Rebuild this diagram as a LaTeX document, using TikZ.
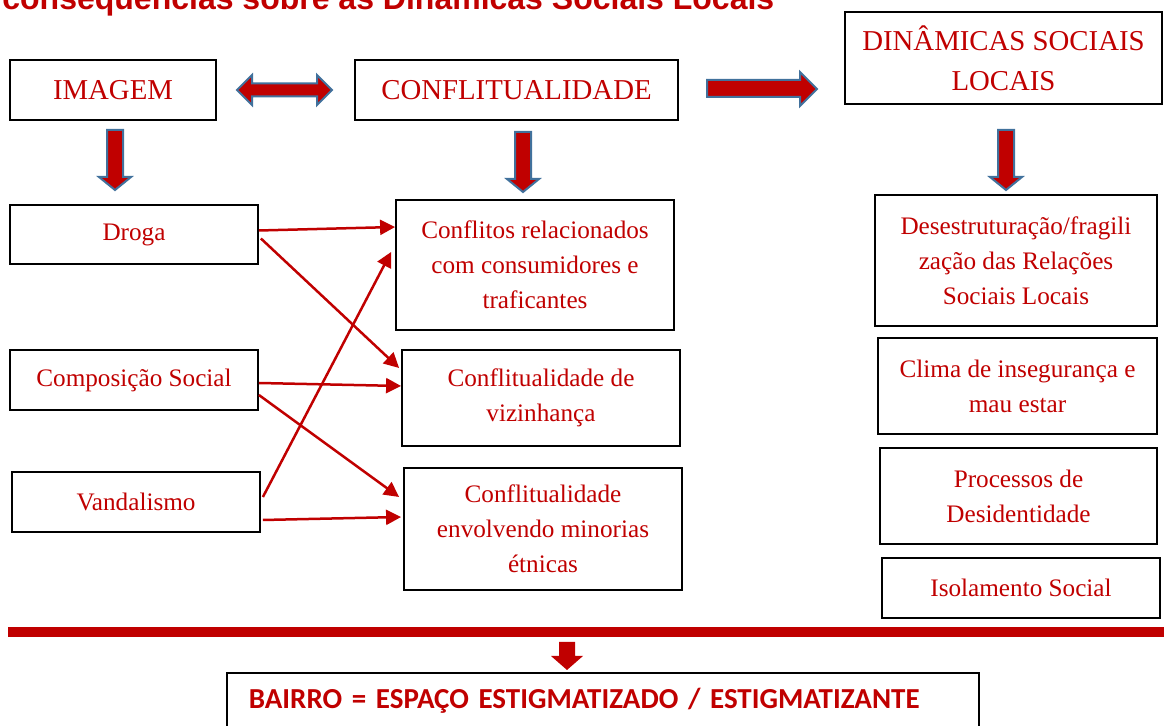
\documentclass[tikz,border=0pt]{standalone}
\usepackage{fontspec}
\setmainfont{Liberation Serif}
\newfontfamily\titlefont{Liberation Sans}
\newfontfamily\calfont{Carlito}
\usetikzlibrary{arrows.meta}
\usetikzlibrary{calc}
\usepackage{xcolor}
\definecolor{darkred}{HTML}{C00000}
\definecolor{steel}{HTML}{41719C}

\begin{document}
\begin{tikzpicture}[x=0.5pt,y=-0.5pt,
    box/.style={draw=black, line width=0.9pt, rectangle, text=darkred, align=center,
      inner sep=0pt, font=\fontsize{12.6}{17.5}\selectfont},
    headbox/.style={box, font=\fontsize{14.4}{20}\selectfont},
    link/.style={darkred, line width=1.25pt, -{Triangle[length=7.5pt,width=7.5pt]}},
    blockarrow/.style={fill=darkred, draw=steel, line width=1pt, line join=miter}]
      \useasboundingbox (0,0) rectangle (1164,726);
      \clip (0,0) rectangle (1164,726);

      % Title (cut at the top)
      \node[anchor=base west, inner sep=0pt, text=darkred,
        font=\titlefont\bfseries\fontsize{16}{19}\selectfont] (title) at (2,10)
        {consequências sobre as Dinâmicas Sociais Locais};

      % Headers
      \node[headbox, minimum width=103pt, minimum height=30pt] (imagem) at (113,90) {IMAGEM};
      \node[headbox, minimum width=161.5pt, minimum height=30pt] (conflit) at (516.5,90) {CONFLITUALIDADE};
      \node[headbox, minimum width=158.5pt, minimum height=46pt] (dinam) at (1003.5,58) {DINÂMICAS SOCIAIS\\LOCAIS};

      % Left column
      \node[box, minimum width=124pt, minimum height=29.5pt] (droga) at (134,234.5) {Droga};
      \node[box, minimum width=124pt, minimum height=30pt] (compos) at (134,380) {Composição Social};
      \node[box, minimum width=124pt, minimum height=30pt] (vandal) at (136,502) {Vandalismo};

      % Middle column
      \node[box, minimum width=139pt, minimum height=65pt] (conf1) at (535,265)
        {Conflitos relacionados\\com consumidores e\\traficantes};
      \node[box, minimum width=139pt, minimum height=48pt] (conf2) at (541,398)
        {Conflitualidade de\\vizinhança};
      \node[box, minimum width=139pt, minimum height=61pt] (conf3) at (543,529)
        {Conflitualidade\\envolvendo minorias\\étnicas};

      % Right column
      \node[box, minimum width=141pt, minimum height=65.5pt] (din1) at (1016,260.5)
        {Desestruturação/fragili\\zação das Relações\\Sociais Locais};
      \node[box, minimum width=139.5pt, minimum height=48pt] (din2) at (1017.5,386)
        {Clima de insegurança e\\mau estar};
      \node[box, minimum width=138.5pt, minimum height=48pt] (din3) at (1018.5,496)
        {Processos de\\Desidentidade};
      \node[box, minimum width=139pt, minimum height=30pt] (din4) at (1021,588) {Isolamento Social};

      % Block arrows
      \draw[blockarrow] (237,90) -- (252,75) -- (252,83.5) -- (317,83.5) -- (317,75) -- (332,90)
        -- (317,105) -- (317,96.5) -- (252,96.5) -- (252,105) -- cycle;
      \draw[blockarrow] (707,80) -- (800,80) -- (800,72) -- (817,89) -- (800,106) -- (800,97)
        -- (707,97) -- cycle;
      \foreach \cx/\ty in {115/130, 523/132, 1006/130}
      {
        \draw[blockarrow] ({\cx-8},\ty) -- ({\cx+8},\ty) -- ({\cx+8},{\ty+47}) -- ({\cx+16},{\ty+47})
          -- (\cx,{\ty+60}) -- ({\cx-16},{\ty+47}) -- ({\cx-8},{\ty+47}) -- cycle;
      }

      % Links
      \draw[link] ($(droga.east)+(0,-4)$) -- ($(conf1.west)+(0,-38)$);
      \draw[link] ($(droga.east)+(2,4)$) -- ($(conf2.west)+(-2,-30)$);
      \draw[link] ($(compos.east)+(0,3)$) -- ($(conf2.west)+(0,-12)$);
      \draw[link] ($(compos.east)+(0,15)$) -- ($(conf3.west)+(-4,-32)$);
      \draw[link] ($(vandal.east)+(2,-5)$) -- ($(conf1.west)+(-4,-13)$);
      \draw[link] ($(vandal.east)+(2,18)$) -- ($(conf3.west)+(-2,-12)$);

      % Bottom
      \draw[darkred, line width=5pt] (8,632) -- (1164,632);
      \fill[darkred] (559,642) -- (575,642) -- (575,656) -- (583,656) -- (567,670) -- (551,656)
        -- (559,656) -- cycle;
      \node[draw=black, line width=0.9pt, anchor=north west, minimum height=28pt,
        text width=354pt, inner xsep=11pt, inner ysep=0pt, align=left, text=darkred,
        font=\calfont\bfseries\fontsize{14.5}{17}\selectfont] (bairro) at (226,672)
        {BAIRRO = ESPAÇO ESTIGMATIZADO / ESTIGMATIZANTE};
  \end{tikzpicture}
\end{document}
